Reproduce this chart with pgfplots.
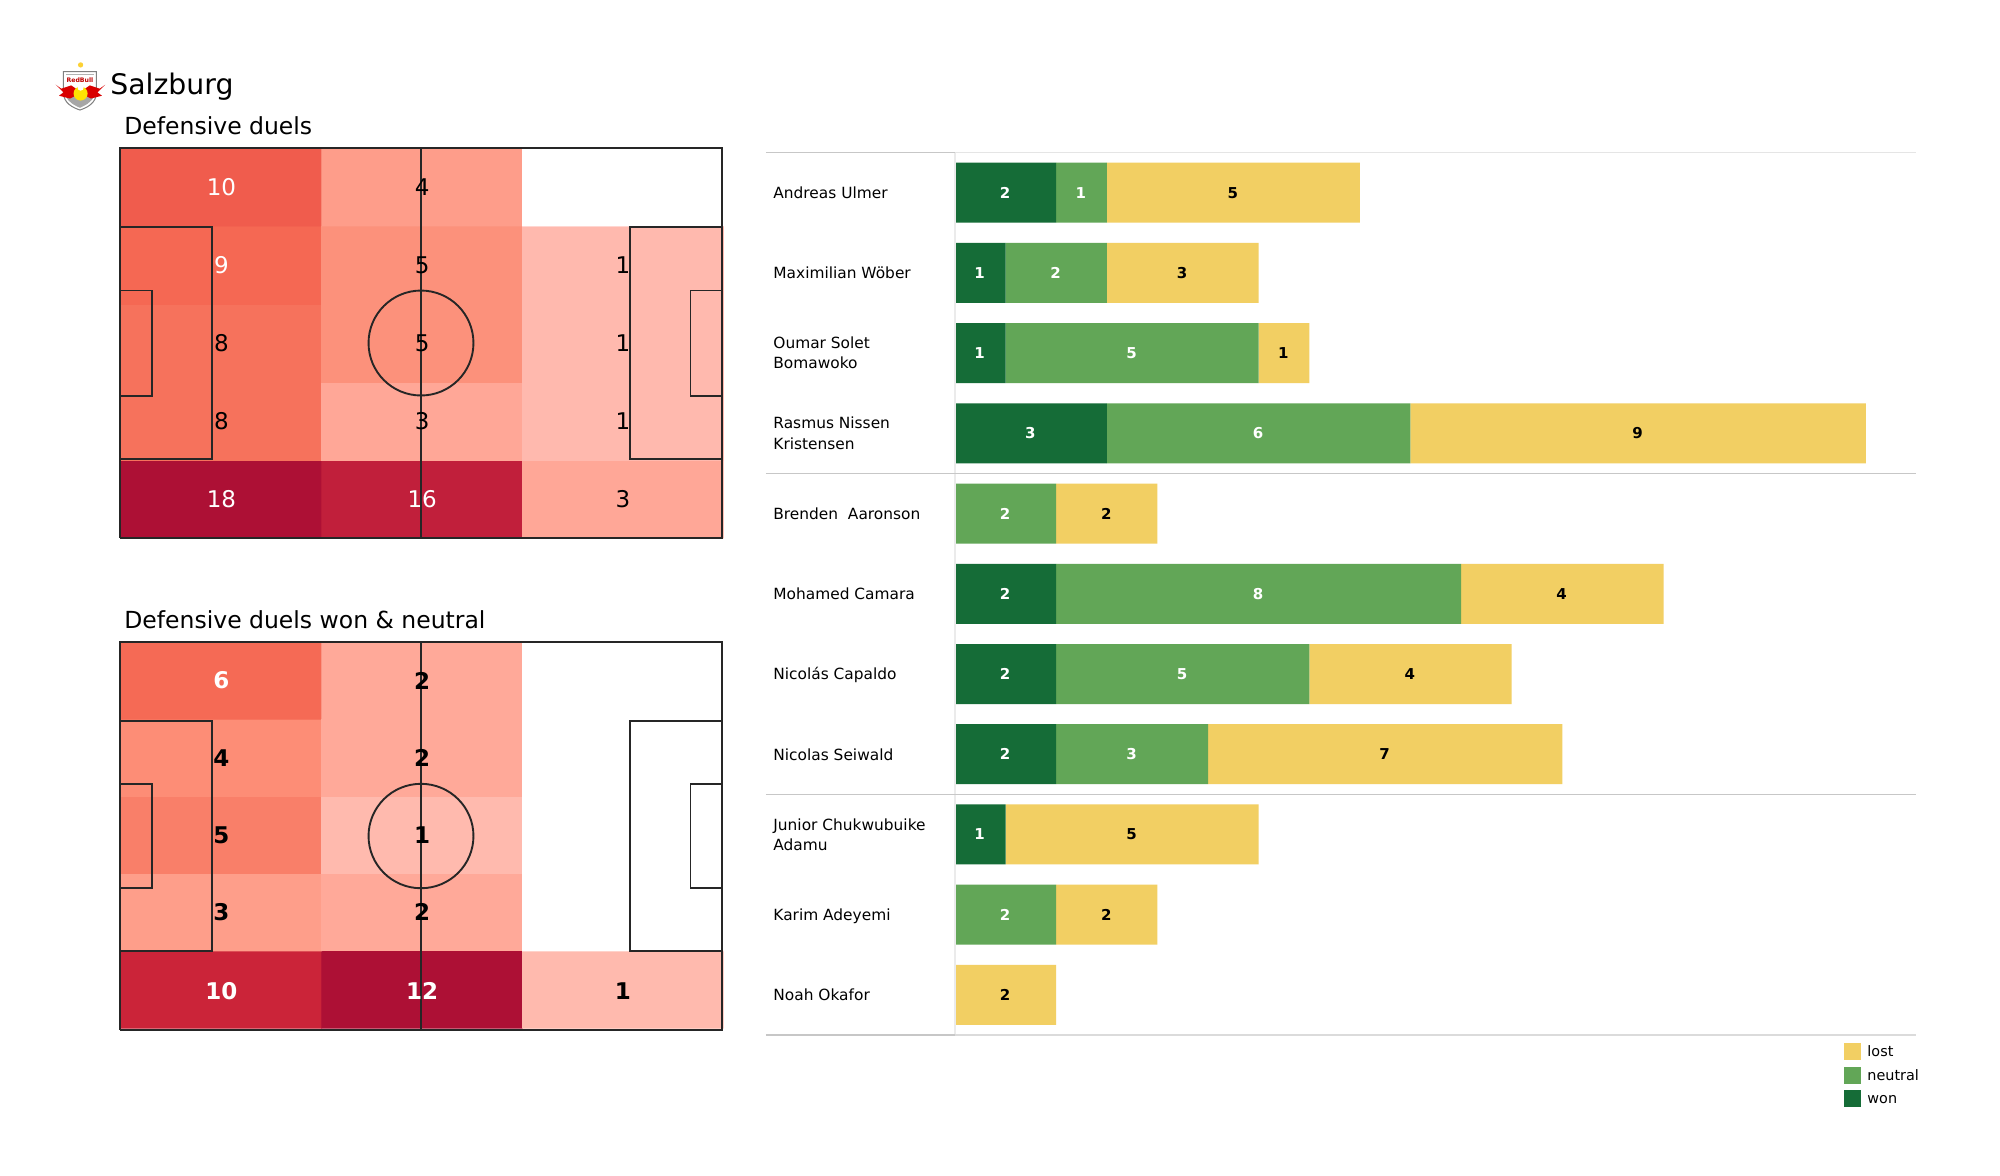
\documentclass[border=0pt]{standalone}
\usepackage{fontspec}
\setmainfont{DejaVu Sans}
\usepackage{pgfplots}
\usepackage{pgfplotstable}
\pgfplotsset{compat=1.18}
\definecolor{won}{HTML}{156C37}
\definecolor{neutral}{HTML}{62A657}
\definecolor{lost}{HTML}{F2CF63}
\definecolor{pline}{HTML}{262626}
\newcommand{\sq}[1]{\raisebox{0pt}[0.76em][0pt]{#1}}
\pgfplotsset{
  colormap={pa}{rgb255(0cm)=(255,255,255) rgb255(1cm)=(255,185,174) rgb255(3cm)=(255,167,151) rgb255(4cm)=(254,157,138) rgb255(5cm)=(252,145,123) rgb255(8cm)=(246,114,92) rgb255(9cm)=(245,104,83) rgb255(10cm)=(240,92,77) rgb255(16cm)=(193,31,59) rgb255(18cm)=(173,16,53)},
  colormap={pb}{rgb255(0cm)=(255,255,255) rgb255(1cm)=(255,186,174) rgb255(2cm)=(255,169,153) rgb255(3cm)=(254,158,138) rgb255(4cm)=(253,141,118) rgb255(5cm)=(249,127,105) rgb255(6cm)=(245,106,85) rgb255(10cm)=(203,36,57) rgb255(12cm)=(173,16,53)},
  pitch/.style={
    scale only axis, width=301pt, xmin=0, xmax=105, ymin=0, ymax=68,
    axis line style={draw=none}, ticks=none, clip=false, axis on top=false},
  plines/.style={draw=pline, line width=0.95pt, no markers, forget plot},
  vals/.style={draw=none, no markers, nodes near coords, nodes near coords align={center},
    point meta=explicit symbolic, forget plot,
    every node near coord/.append style={inner sep=0pt, text=#1}},
}
\pgfplotstableread{
x y c
17.7 6.8 18
52.7 6.8 16
87.7 6.8 3
17.7 20.4 8
52.7 20.4 3
87.7 20.4 1
17.7 34 8
52.7 34 5
87.7 34 1
17.7 47.6 9
52.7 47.6 5
87.7 47.6 1
17.7 61.2 10
52.7 61.2 4
87.7 61.2 0
}\cellsA
\pgfplotstableread{
x y c
17.7 7.1 10
52.7 7.1 12
87.7 7.1 1
17.7 20.65 3
52.7 20.65 2
87.7 20.65 0
17.7 34.2 5
52.7 34.2 1
87.7 34.2 0
17.7 47.7 4
52.7 47.7 2
87.7 47.7 0
17.7 61.25 6
52.7 61.25 2
87.7 61.25 0
}\cellsB
\pgfplotstableread{
x y c
17.7 6.8 18
52.7 6.8 16
17.7 47.6 9
17.7 61.2 10
}\labAw
\pgfplotstableread{
x y c
87.7 6.8 3
17.7 20.4 8
52.7 20.4 3
87.7 20.4 1
17.7 34 8
52.7 34 5
87.7 34 1
52.7 47.6 5
87.7 47.6 1
52.7 61.2 4
}\labAk
\pgfplotstableread{
x y c
17.7 6.9 10
52.7 6.9 12
17.7 61.25 6
}\labBw
\pgfplotstableread{
x y c
87.7 6.9 1
17.7 20.65 3
52.7 20.65 2
17.7 34.2 5
52.7 34.2 1
17.7 47.7 4
52.7 47.7 2
52.7 61.25 2
}\labBk
\pgfplotstableread{
y won neutral lost
0 2 1 5
1 1 2 3
2 1 5 1
3 3 6 9
4 0 2 2
5 2 8 4
6 2 5 4
7 2 3 7
8 1 0 5
9 0 2 2
10 0 0 2
}\bars
\pgfplotstableread{
x y v
1 0 2
0.5 1 1
0.5 2 1
1.5 3 3
1 5 2
1 6 2
1 7 2
0.5 8 1
}\labWon
\pgfplotstableread{
x y v
2.5 0 1
2 1 2
3.5 2 5
6 3 6
1 4 2
6 5 8
4.5 6 5
3.5 7 3
1 9 2
}\labNeutral
\pgfplotstableread{
x y v
5.5 0 5
4.5 1 3
6.5 2 1
13.5 3 9
3 4 2
12 5 4
9 6 4
8.5 7 7
3.5 8 5
3 9 2
1 10 2
}\labLost
\newcommand{\pitchlines}{
  \addplot[plines] coordinates {(0,0)(105,0)(105,68)(0,68)(0,0)};
  \addplot[plines] coordinates {(52.5,0)(52.5,68)};
  \addplot[plines] coordinates {(0,13.84)(16,13.84)(16,54.16)(0,54.16)};
  \addplot[plines] coordinates {(105,13.84)(89,13.84)(89,54.16)(105,54.16)};
  \addplot[plines] coordinates {(0,24.84)(5.6,24.84)(5.6,43.16)(0,43.16)};
  \addplot[plines] coordinates {(105,24.84)(99.5,24.84)(99.5,43.16)(105,43.16)};
  \draw[pline, line width=0.95pt] (axis cs:52.5,34) circle [radius=9.15];
}
\begin{document}
\begin{tikzpicture}
\path[fill=white] (0pt,0pt) rectangle (1000pt,-587.5pt);
% crest
\begin{scope}[shift={(40.3pt,-44pt)},scale=1.1,shift={(-40.3pt,44pt)}]
\fill[yellow!60!orange!80] (40.3pt,-33.5pt) circle (1.2pt);
\fill[white,draw=black!50,line width=0.5pt] (32.5pt,-36.5pt) -- (47.5pt,-36.5pt) -- (47.5pt,-46pt) .. controls (47.5pt,-51pt) and (43pt,-53pt) .. (40pt,-54pt) .. controls (37pt,-53pt) and (32.5pt,-51pt) .. (32.5pt,-46pt) -- cycle;
\fill[black!35] (33.5pt,-47.5pt) -- (46.5pt,-47.5pt) .. controls (45pt,-51pt) and (42pt,-52pt) .. (40pt,-53pt) .. controls (38pt,-52pt) and (35pt,-51pt) .. (33.5pt,-47.5pt) -- cycle;
\fill[black!30] (33.5pt,-37.5pt) rectangle (46.5pt,-38.3pt);
\node[inner sep=0pt, text=red!75!black, font=\fontsize{3.1}{3}\selectfont\bfseries] at (40pt,-40.3pt) {RedBull};
\fill[red!85!black] (29pt,-42.5pt) -- (31.5pt,-44.3pt) -- (36pt,-42.8pt) -- (38.5pt,-44.5pt) -- (39pt,-47pt) -- (35.5pt,-48.8pt) -- (30.5pt,-47.5pt) -- (32.5pt,-46pt) -- cycle;
\fill[red!85!black] (51.5pt,-42.5pt) -- (49pt,-44.3pt) -- (44.5pt,-42.8pt) -- (42pt,-44.5pt) -- (41.5pt,-47pt) -- (45pt,-48.8pt) -- (50pt,-47.5pt) -- (48pt,-46pt) -- cycle;
\fill[yellow!85!orange] (40.3pt,-46.5pt) circle (3.2pt);
\fill[white] (40.3pt,-43.8pt) circle (1.4pt);
\end{scope}
\node[anchor=base west, inner sep=0pt, font=\fontsize{14.15}{17}\selectfont] at (55pt,-47pt) {Salzburg};
\node[anchor=base west, inner sep=0pt, font=\fontsize{11.75}{14}\selectfont] at (62pt,-67pt) {Defensive duels};
\node[anchor=base west, inner sep=0pt, font=\fontsize{11.75}{14}\selectfont] at (62pt,-314pt) {Defensive duels won \& neutral};
% pitch 1
\begin{axis}[pitch, at={(60pt,-269pt)}, anchor=south west, height=195pt,
  colormap name=pa, point meta min=0, point meta max=18]
  \addplot[matrix plot*, mesh/cols=3, point meta=explicit, forget plot] table[x=x,y=y,meta=c] {\cellsA};
  \pitchlines
  \addplot[vals=white, every node near coord/.append style={font=\fontsize{11.5}{14}\selectfont}] table[x=x,y=y,meta=c] {\labAw};
  \addplot[vals=black, every node near coord/.append style={font=\fontsize{11.5}{14}\selectfont}] table[x=x,y=y,meta=c] {\labAk};
\end{axis}
% pitch 2
\begin{axis}[pitch, at={(60pt,-515pt)}, anchor=south west, height=194pt,
  colormap name=pb, point meta min=0, point meta max=12]
  \addplot[matrix plot*, mesh/cols=3, point meta=explicit, forget plot] table[x=x,y=y,meta=c] {\cellsB};
  \pitchlines
  \addplot[vals=white, every node near coord/.append style={font=\fontsize{11.5}{14}\selectfont\bfseries}] table[x=x,y=y,meta=c] {\labBw};
  \addplot[vals=black, every node near coord/.append style={font=\fontsize{11.5}{14}\selectfont\bfseries}] table[x=x,y=y,meta=c] {\labBk};
\end{axis}
% bars
\begin{axis}[at={(477.5pt,-517.5pt)}, anchor=south west, scale only axis,
  width=480.5pt, height=441.25pt, xmin=0, xmax=18.99, ymin=-0.5, ymax=10.5, y dir=reverse,
  xbar stacked, bar width=30pt, axis lines=none, clip=false,
  xtick=\empty, ytick={0,...,10}, major tick length=0pt,
  yticklabels={},
  legend cell align=left, reverse legend,
  legend style={draw=none, fill=none, inner sep=0pt, font=\fontsize{7.2}{9}\selectfont,
    at={(axis description cs:0.9251,-0.0091)}, anchor=north west, row sep=2pt,
    nodes={inner sep=0pt, text height=5.5pt, text depth=3pt},
    /tikz/every odd column/.append style={column sep=3pt}},
  legend image code/.code={\fill[#1] (0pt,-3pt) rectangle (8.5pt,5.5pt);},
]
  \addplot[fill=won, draw=none] table[x=won,y=y] {\bars};
  \addlegendentry{won}
  \addplot[fill=neutral, draw=none] table[x=neutral,y=y] {\bars};
  \addlegendentry{neutral}
  \addplot[fill=lost, draw=none] table[x=lost,y=y] {\bars};
  \addlegendentry{lost}
\end{axis}
% labels and rules
\begin{axis}[at={(477.5pt,-517.5pt)}, anchor=south west, scale only axis,
  width=480.5pt, height=441.25pt, xmin=0, xmax=18.99, ymin=-0.5, ymax=10.5, y dir=reverse,
  clip=false, axis line style={draw=none}, xtick=\empty, major tick length=0pt,
  ytick={0,...,10},
  yticklabels={\sq{Andreas Ulmer}, \sq{Maximilian Wöber}, {Oumar Solet\\Bomawoko}, {Rasmus Nissen\\Kristensen},
    \sq{Brenden\ \ Aaronson}, \sq{Mohamed Camara}, \sq{Nicolás Capaldo}, \sq{Nicolas Seiwald},
    {Junior Chukwubuike\\Adamu}, \sq{Karim Adeyemi}, \sq{Noah Okafor}},
  yticklabel style={anchor=west, align=left, inner sep=0pt, xshift=-91pt,
    font=\fontsize{7.7}{10.1}\selectfont},
]
  \draw[black!8, line width=0.6pt] (axis cs:0,-0.5) -- (axis cs:0,10.5);
  \draw[black!22, line width=0.6pt] (axis cs:-3.735,-0.5) -- (axis cs:0,-0.5);
  \draw[black!10, line width=0.6pt] (axis cs:0,-0.5) -- (axis cs:18.99,-0.5);
  \draw[black!22, line width=0.7pt] (axis cs:-3.735,3.5) -- (axis cs:18.99,3.5);
  \draw[black!22, line width=0.7pt] (axis cs:-3.735,7.5) -- (axis cs:18.99,7.5);
  \draw[black!22, line width=0.7pt] (axis cs:-3.735,10.5) -- (axis cs:0,10.5);
  \draw[black!14, line width=0.7pt] (axis cs:0,10.5) -- (axis cs:18.99,10.5);
  \addplot[vals=white, every node near coord/.append style={xshift=-0.3pt, font=\fontsize{7.5}{9}\selectfont\bfseries}] table[x=x,y=y,meta=v] {\labWon};
  \addplot[vals=white, every node near coord/.append style={xshift=-0.3pt, font=\fontsize{7.5}{9}\selectfont\bfseries}] table[x=x,y=y,meta=v] {\labNeutral};
  \addplot[vals=black, every node near coord/.append style={xshift=-0.3pt, font=\fontsize{7.5}{9}\selectfont\bfseries}] table[x=x,y=y,meta=v] {\labLost};
\end{axis}
\end{tikzpicture}
\end{document}
